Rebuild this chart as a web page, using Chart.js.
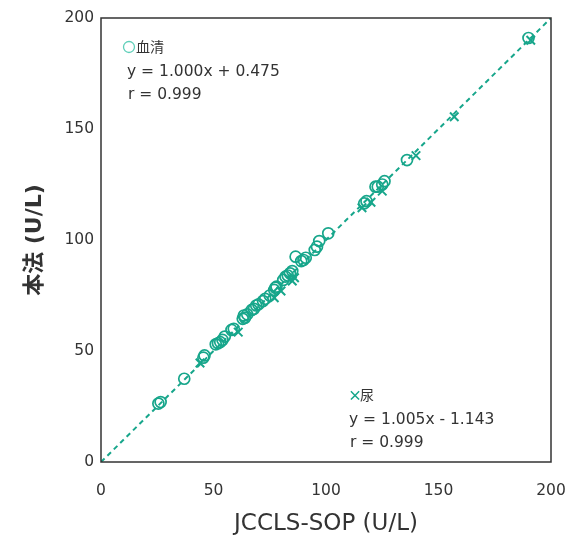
<!DOCTYPE html>
<html>
<head>
<meta charset="utf-8">
<script src="https://cdn.jsdelivr.net/npm/chart.js@4/dist/chart.umd.min.js"></script>
<style>
  html, body { margin: 0; padding: 0; background: #fff; }
  #wrap { width: 567px; height: 542px; }
</style>
</head>
<body>
<div id="wrap"><canvas id="myChart" width="567" height="542"></canvas></div>
<script>
// data
const serumX = [25.5, 26.5, 37, 45.5, 46, 51, 52, 53, 54, 55, 58, 59, 63, 63.5, 64, 65, 67, 68, 69, 70, 72, 73, 75, 77, 77.5, 78, 81, 82, 83, 84, 85, 86.5, 89, 90, 91, 95, 96, 97, 101, 117, 118, 122, 123, 125, 126, 136, 190];
const serumY = [26.3, 27, 37.5, 47, 48, 53, 53.5, 54, 55, 56.5, 59.5, 60, 64.5, 66, 65, 66.5, 68.5, 69, 70.5, 71, 72.5, 73.5, 75, 77.5, 78.5, 79, 82, 83.5, 84, 85, 86, 92.5, 90.5, 91, 92, 95.5, 97, 99.5, 103, 116.5, 117.5, 124, 124, 125, 126.5, 136, 191];
const urineX = [44, 61, 77, 80, 85, 86, 116, 120, 125, 140, 157, 191];
const urineY = [44.6, 58.5, 74, 77, 81.5, 83, 114.5, 117, 122, 138, 155.5, 190];
const lineX = [0, 200];
const lineY = [0, 200];
const tickValues = [0, 50, 100, 150, 200];

const teal = "#17a68b";
const font = "'DejaVu Sans', 'Noto Sans CJK JP', sans-serif";

function toPoints(xs, ys) {
  return xs.map((x, i) => ({ x: x, y: ys[i] }));
}

// frame + notes
const framePlugin = {
  id: "frame",
  afterDraw(chart) {
    const ctx = chart.ctx;
    const a = chart.chartArea;
    ctx.save();
    ctx.strokeStyle = "#333";
    ctx.lineWidth = 1.5;
    ctx.strokeRect(a.left, a.top, a.right - a.left, a.bottom - a.top);

    ctx.fillStyle = "#333";
    ctx.textBaseline = "middle";
    // serum note
    ctx.strokeStyle = "#5fcfb9";
    ctx.lineWidth = 1.3;
    ctx.beginPath();
    ctx.arc(129, 47, 5.5, 0, Math.PI * 2);
    ctx.stroke();
    ctx.font = "14px 'Noto Sans CJK JP'";
    ctx.fillText("血清", 136, 47);
    ctx.font = "15.5px " + font;
    ctx.fillText("y = 1.000x + 0.475", 127, 72);
    ctx.fillText("r = 0.999", 128, 95);
    // urine note
    ctx.fillStyle = teal;
    ctx.font = "bold 14px 'Noto Sans CJK JP'";
    ctx.fillText("×", 348, 395);
    ctx.fillStyle = "#333";
    ctx.font = "14px 'Noto Sans CJK JP'";
    ctx.fillText("尿", 360, 395);
    ctx.font = "15.5px " + font;
    ctx.fillText("y = 1.005x - 1.143", 349, 420);
    ctx.fillText("r = 0.999", 350, 443);
    ctx.restore();
  }
};

const ctx = document.getElementById("myChart").getContext("2d");
const myChart = new Chart(ctx, {
  type: "scatter",
  data: {
    datasets: [
      {
        type: "line",
        data: toPoints(lineX, lineY),
        borderColor: teal,
        borderWidth: 2,
        borderDash: [5, 4],
        pointRadius: 0,
        fill: false,
      },
      {
        data: toPoints(serumX, serumY),
        pointStyle: "circle",
        pointRadius: 5.5,
        borderColor: teal,
        backgroundColor: "rgba(0,0,0,0)",
        pointBorderWidth: 1.7,
      },
      {
        data: toPoints(urineX, urineY),
        pointStyle: "crossRot",
        pointRadius: 6,
        borderColor: teal,
        pointBorderWidth: 2,
      },
    ],
  },
  options: {
    responsive: false,
    animation: false,
    layout: { padding: { top: 18, right: 16, left: 0, bottom: 0 } },
    plugins: {
      legend: { display: false },
      tooltip: { enabled: false },
    },
    scales: {
      x: {
        type: "linear",
        min: 0,
        max: 200,
        afterBuildTicks: (s) => { s.ticks = tickValues.map((v) => ({ value: v })); },
        afterFit: (s) => { s.height = 80; s.paddingLeft = 0; s.paddingRight = 0; },
        grid: { display: false, drawTicks: false },
        border: { display: false },
        ticks: { color: "#333", font: { size: 15.5, family: font }, padding: 20 },
        title: {
          display: true,
          text: "JCCLS-SOP (U/L)",
          color: "#333",
          font: { size: 23, family: font },
          padding: { top: 5 },
        },
      },
      y: {
        type: "linear",
        min: 0,
        max: 200,
        afterBuildTicks: (s) => { s.ticks = tickValues.map((v) => ({ value: v })); },
        afterFit: (s) => { s.width = 101; s.paddingTop = 0; s.paddingBottom = 0; },
        grid: { display: false, drawTicks: false },
        border: { display: false },
        ticks: { color: "#333", font: { size: 15.5, family: font }, padding: 7 },
        title: {
          display: true,
          text: "本法 (U/L)",
          color: "#333",
          font: { size: 22, family: font, weight: "bold" },
          padding: { top: 22, bottom: 0 },
        },
      },
    },
  },
  plugins: [framePlugin],
});
</script>
</body>
</html>
